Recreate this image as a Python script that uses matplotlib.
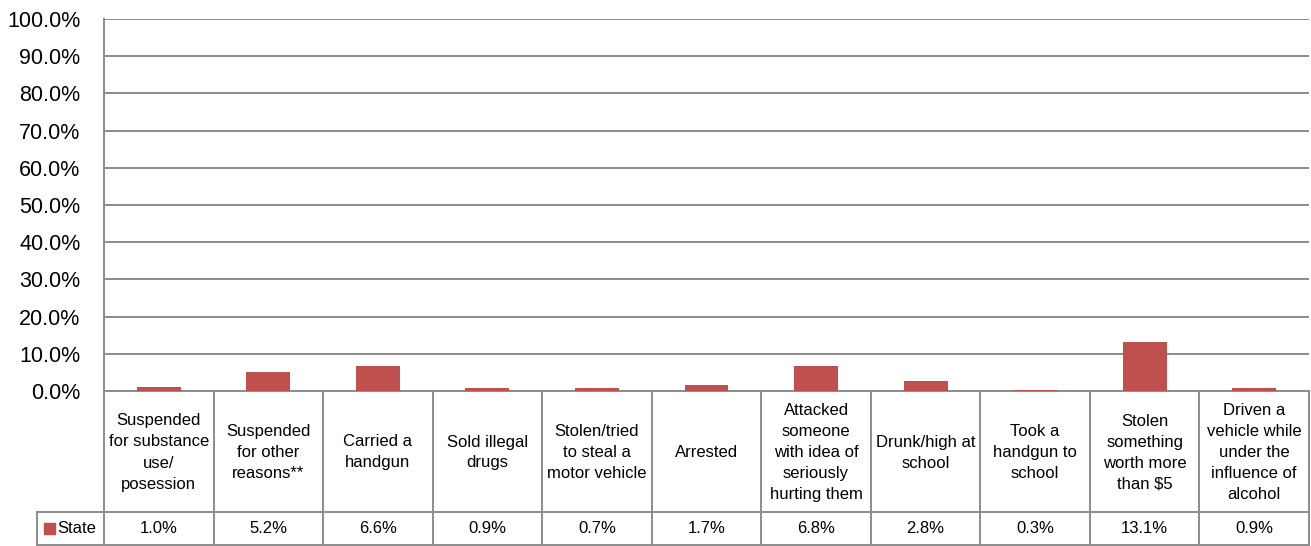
import numpy as np
import matplotlib
matplotlib.use("Agg")
import matplotlib.pyplot as plt
from matplotlib.patches import Rectangle

plt.rcParams['font.family'] = ['Liberation Sans', 'DejaVu Sans']

categories = [
    "Suspended\nfor substance\nuse/\nposession",
    "Suspended\nfor other\nreasons**",
    "Carried a\nhandgun",
    "Sold illegal\ndrugs",
    "Stolen/tried\nto steal a\nmotor vehicle",
    "Arrested",
    "Attacked\nsomeone\nwith idea of\nseriously\nhurting them",
    "Drunk/high at\nschool",
    "Took a\nhandgun to\nschool",
    "Stolen\nsomething\nworth more\nthan $5",
    "Driven a\nvehicle while\nunder the\ninfluence of\nalcohol",
]
state_values = [1.0, 5.2, 6.6, 0.9, 0.7, 1.7, 6.8, 2.8, 0.3, 13.1, 0.9]
series_name = "State"
y_ticks = np.arange(0, 101, 10)

RED = "#C0504D"
GRAY = "#8C8C8C"

W, H = 1311, 546
fig = plt.figure(figsize=(W / 100, H / 100), dpi=100)

# chart area in pixels
left, right, top, zero, bottom = 104, 1309, 19, 391, 545
row_split = 512
legend_left = 37

ax = fig.add_axes([left / W, (H - zero) / H, (right - left) / W, (zero - top) / H])
n = len(categories)
x = np.arange(n)
ax.bar(x, state_values, width=0.4, color=RED, zorder=3)
ax.set_xlim(-0.5, n - 0.5)
ax.set_ylim(0, 100)
ax.set_yticks(y_ticks)
ax.set_yticklabels([f"{t:.1f}%" for t in y_ticks], fontsize=15.5)
ax.set_xticks([])
ax.tick_params(axis='y', length=0, pad=17)
ax.yaxis.grid(True, color=GRAY, linewidth=1.4)
ax.set_axisbelow(True)
for s in ['top', 'right']:
    ax.spines[s].set_visible(False)
for s in ['left', 'bottom']:
    ax.spines[s].set_color(GRAY)
    ax.spines[s].set_linewidth(1.4)

# data table under the chart
tab = fig.add_axes([left / W, (H - bottom) / H, (right - left) / W, (bottom - zero) / H])
tab.set_xlim(-0.5, n - 0.5)
tab.set_ylim(bottom - zero, 0)
tab.axis('off')

col_w = (right - left) / n
leg_x = -0.5 - (left - legend_left) / col_w
split = row_split - zero
end = bottom - zero

line_kw = dict(color=GRAY, linewidth=1.4, clip_on=False)
for i in range(n + 1):
    tab.plot([i - 0.5, i - 0.5], [0, end], **line_kw)
tab.plot([leg_x, n - 0.5], [split, split], **line_kw)
tab.plot([leg_x, n - 0.5], [end, end], **line_kw)
tab.plot([leg_x, leg_x], [split, end], **line_kw)

for i, (cat, v) in enumerate(zip(categories, state_values)):
    tab.text(i, split / 2 + 1, cat, ha='center', va='center', fontsize=12,
             linespacing=1.5, color='#000000')
    tab.text(i, (split + end) / 2, f"{v:.1f}%", ha='center', va='center',
             fontsize=12, color='#000000')

sq = 11 / col_w
tab.add_patch(Rectangle((-0.5 - (left - 44) / col_w, (split + end) / 2 - 5.5), sq, 11,
                        color=RED, clip_on=False))
tab.text(-0.5 - (left - 57) / col_w, (split + end) / 2, series_name, ha='left',
         va='center', fontsize=12)

fig.savefig("out.png", dpi=100)
